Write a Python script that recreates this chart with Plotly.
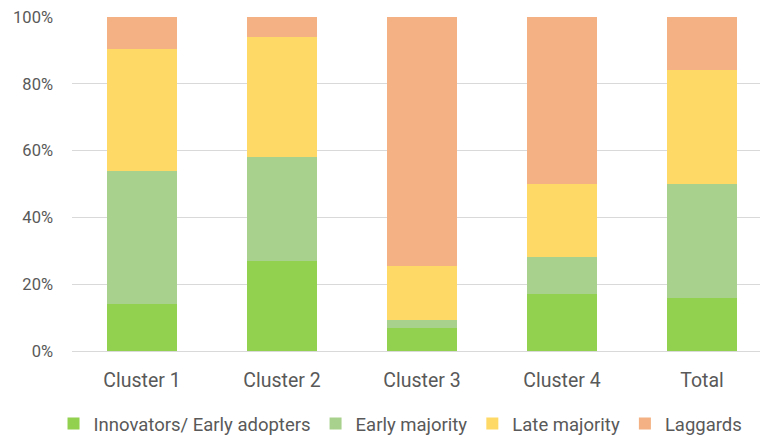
import plotly.graph_objects as go

categories = ["Cluster 1", "Cluster 2", "Cluster 3", "Cluster 4", "Total"]
innovators = [14.0, 27.0, 6.8, 17.0, 16.0]
early_majority = [40.0, 31.0, 2.6, 11.0, 34.0]
late_majority = [36.5, 36.0, 16.0, 22.0, 34.0]
laggards = [9.5, 6.0, 74.6, 50.0, 16.0]

series_names = ["Innovators/ Early adopters", "Early majority", "Late majority", "Laggards"]
series_values = [innovators, early_majority, late_majority, laggards]
colors = ["#92D050", "#A9D18E", "#FFD966", "#F4B183"]

y_tickvals = [0, 20, 40, 60, 80, 100]
y_ticktext = ["0%", "20%", "40%", "60%", "80%", "100%"]

FONT = "Roboto"
GREY = "#595959"

fig = go.Figure()
for name, vals, col in zip(series_names, series_values, colors):
    fig.add_trace(go.Bar(x=categories, y=vals, name=name, marker=dict(color=col, line=dict(width=0))))

# page body has an 8px margin, so the figure is sized/offset to compensate
fig.update_layout(
    barmode="stack",
    bargap=0.5,
    width=760,
    height=435,
    margin=dict(l=64, r=0, t=9, b=91),
    paper_bgcolor="white",
    plot_bgcolor="white",
    font=dict(family=FONT, size=17, color=GREY),
    showlegend=True,
    legend=dict(
        orientation="h",
        x=0.472,
        xanchor="center",
        y=-0.218,
        yanchor="middle",
        font=dict(family=FONT, size=18.5, color=GREY),
        traceorder="normal",
    ),
    xaxis=dict(
        range=[-0.5, 4.471],
        showgrid=False,
        showline=False,
        zeroline=False,
        ticks="",
        ticklabelstandoff=15,
        tickfont=dict(family=FONT, size=19.5, color=GREY),
    ),
    yaxis=dict(
        range=[0, 100],
        tickvals=y_tickvals,
        ticktext=y_ticktext,
        showgrid=True,
        gridcolor="#D9D9D9",
        gridwidth=1,
        zeroline=True,
        zerolinecolor="#D9D9D9",
        zerolinewidth=1,
        showline=False,
        ticks="",
        ticklabelstandoff=18,
        ticklabeloverflow="allow",
        tickfont=dict(family=FONT, size=16.5, color=GREY),
    ),
)

fig.write_html("out.html")
